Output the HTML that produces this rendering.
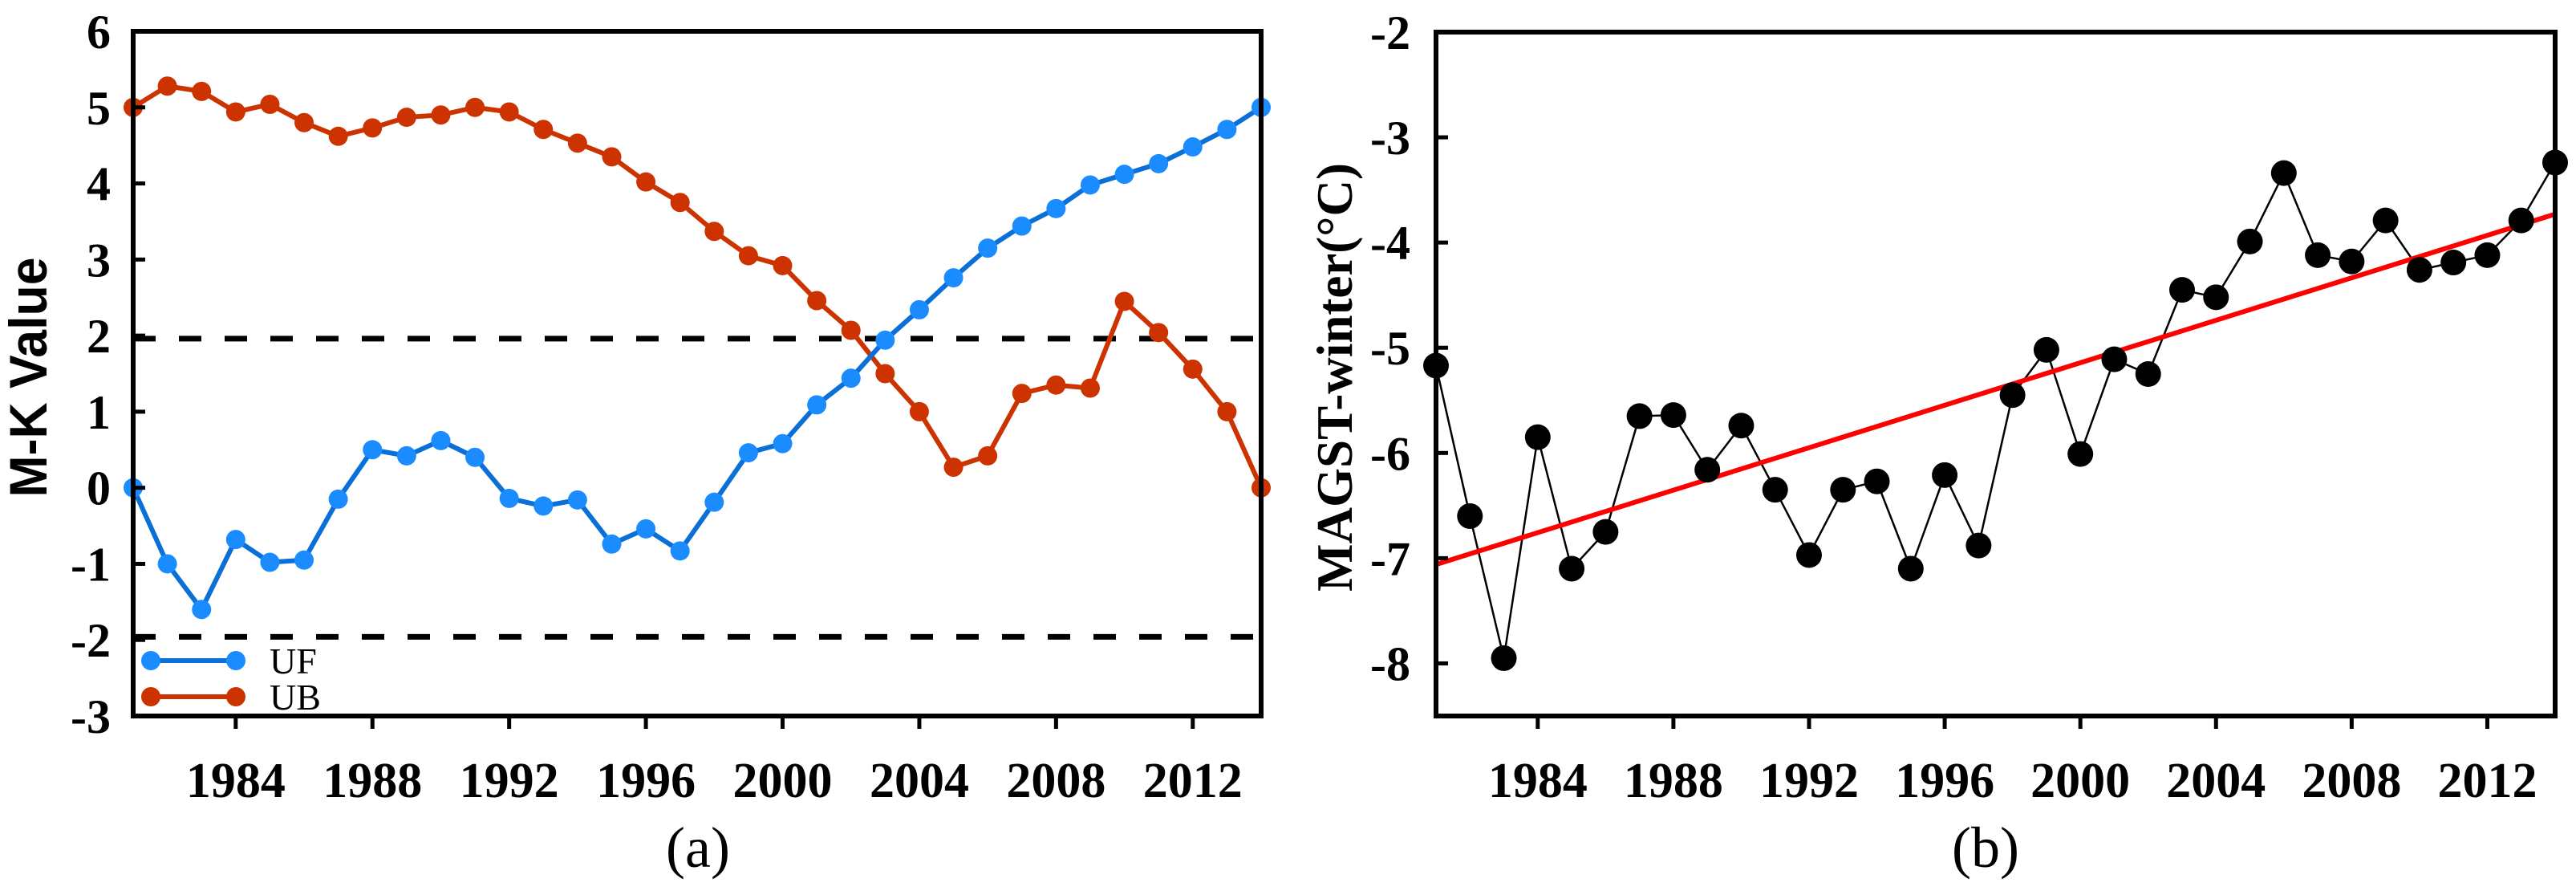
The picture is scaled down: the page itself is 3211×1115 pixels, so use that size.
<!DOCTYPE html>
<html><head><meta charset="utf-8"><style>
html,body{margin:0;padding:0;background:#fff;}
svg{display:block;}
</style></head><body>
<svg id="fig" width="3211" height="1115" viewBox="0 0 3211 1115" xmlns="http://www.w3.org/2000/svg">
<g id="pa"></g>
<g id="pb"></g>
</svg>
<script>
const years = [1981,1982,1983,1984,1985,1986,1987,1988,1989,1990,1991,1992,1993,1994,1995,1996,1997,1998,1999,2000,2001,2002,2003,2004,2005,2006,2007,2008,2009,2010,2011,2012,2013,2014];
const ufValues = [0,-1.0,-1.6,-0.68,-0.98,-0.95,-0.15,0.5,0.42,0.62,0.4,-0.14,-0.24,-0.16,-0.74,-0.54,-0.83,-0.19,0.46,0.58,1.09,1.44,1.94,2.34,2.76,3.15,3.44,3.67,3.98,4.12,4.26,4.48,4.71,5.0];
const ubValues = [5.0,5.28,5.21,4.94,5.04,4.8,4.62,4.73,4.87,4.9,5.0,4.94,4.71,4.53,4.35,4.02,3.75,3.37,3.05,2.92,2.46,2.07,1.5,1.0,0.27,0.42,1.24,1.35,1.31,2.45,2.04,1.56,1.0,0];
const magstValues = [-5.17,-6.6,-7.95,-5.85,-7.1,-6.75,-5.65,-5.64,-6.16,-5.74,-6.35,-6.97,-6.35,-6.27,-7.1,-6.21,-6.88,-5.45,-5.02,-6.01,-5.11,-5.25,-4.45,-4.52,-3.99,-3.34,-4.12,-4.18,-3.79,-4.26,-4.19,-4.12,-3.79,-3.24];
const trendEnds = [-7.06,-3.73];
const xTickYears = [1984,1988,1992,1996,2000,2004,2008,2012];
const yTicksA = [6,5,4,3,2,1,0,-1,-2,-3];
const yTicksB = [-2,-3,-4,-5,-6,-7,-8];
const critValues = [1.96,-1.96];

const NS='http://www.w3.org/2000/svg';
const SERIF='"Liberation Serif", "Times New Roman", Times, serif';
function mk(parent,tag,attrs,txt){const e=document.createElementNS(NS,tag);for(const k in attrs)e.setAttribute(k,attrs[k]);if(txt!==undefined)e.textContent=txt;parent.appendChild(e);return e;}

function panel(L,R,T,B,ymax,ymin){
  const x=v=>L+(v-1981)/(2014-1981)*(R-L);
  const y=v=>T+(ymax-v)/(ymax-ymin)*(B-T);
  return {x,y};
}

// ---------- Panel A ----------
const ga=document.getElementById('pa');
const A={L:166,R:1572,T:39,B:892};
const sa=panel(A.L,A.R,A.T,A.B,6,-3);
critValues.forEach(c=>{
  const l=mk(ga,'line',{x1:A.L,x2:A.R,y1:sa.y(c),y2:sa.y(c),stroke:'#000','stroke-width':7,'stroke-dasharray':'28,29'});
  
  
});
function series(g,vals,s,color,mcolor,r,w,name){
  const pts=vals.map((v,i)=>s.x(years[i])+','+s.y(v)).join(' ');
  const pl=mk(g,'polyline',{points:pts,fill:'none',stroke:color,'stroke-width':w,'stroke-linejoin':'round'});
  
  
  vals.forEach((v,i)=>{
    const c=mk(g,'circle',{cx:s.x(years[i]),cy:s.y(v),r:r,fill:mcolor});
    
    
  });
}
series(ga,ubValues,sa,'#cc3300','#cc3300',12,6,'ub');
series(ga,ufValues,sa,'#0a6fd6','#1a8cff',12,6,'uf');
const fa=mk(ga,'rect',{x:A.L,y:A.T,width:A.R-A.L,height:A.B-A.T,fill:'none',stroke:'#000','stroke-width':6});


yTicksA.forEach(v=>{
  mk(ga,'line',{x1:A.L,x2:A.L+15,y1:sa.y(v),y2:sa.y(v),stroke:'#000','stroke-width':5});
  const t=mk(ga,'text',{x:A.L-28,y:sa.y(v)+21,'text-anchor':'end','font-size':60,'font-weight':'bold','font-family':SERIF},String(v));
  
  
});
xTickYears.forEach(v=>{
  mk(ga,'line',{x1:sa.x(v),x2:sa.x(v),y1:A.B,y2:A.B+16,stroke:'#000','stroke-width':5});
  const t=mk(ga,'text',{x:sa.x(v),y:993,'text-anchor':'middle','font-size':62,'font-weight':'bold','font-family':SERIF},String(v));
  
  
});
const ta=mk(ga,'text',{x:0,y:0,transform:'translate(58,470) rotate(-90)','text-anchor':'middle','font-size':66,'font-weight':'bold','font-family':'"Liberation Sans", Arial, sans-serif',textLength:299,lengthAdjust:'spacingAndGlyphs'},'M-K Value');


const ca=mk(ga,'text',{x:870,y:1080,'text-anchor':'middle','font-size':72,'font-family':SERIF},'(a)');


// legend
[['uf','#0a6fd6','#1a8cff','UF',823],['ub','#cc3300','#cc3300','UB',868]].forEach(d=>{
  const lg=mk(ga,'g',{});
  
  
  mk(lg,'line',{x1:188,x2:294,y1:d[4],y2:d[4],stroke:d[1],'stroke-width':6});
  mk(lg,'circle',{cx:188,cy:d[4],r:12,fill:d[2]});
  mk(lg,'circle',{cx:294,cy:d[4],r:12,fill:d[2]});
  mk(lg,'text',{x:336,y:d[4]+16,'font-size':46,'font-family':SERIF},d[3]);
});

// ---------- Panel B ----------
const gb=document.getElementById('pb');
const B={L:1790,R:3185,T:40,B:892};
const sb=panel(B.L,B.R,B.T,B.B,-2,-8.5);
const pts=magstValues.map((v,i)=>sb.x(years[i])+','+sb.y(v)).join(' ');
const ml=mk(gb,'polyline',{points:pts,fill:'none',stroke:'#000','stroke-width':2.5});


const tr=mk(gb,'line',{x1:sb.x(1981),y1:sb.y(trendEnds[0]),x2:sb.x(2014),y2:sb.y(trendEnds[1]),stroke:'#ff0000','stroke-width':6});


magstValues.forEach((v,i)=>{
  const c=mk(gb,'circle',{cx:sb.x(years[i]),cy:sb.y(v),r:16,fill:'#000'});
  
  
});
const fb=mk(gb,'rect',{x:B.L,y:B.T,width:B.R-B.L,height:B.B-B.T,fill:'none',stroke:'#000','stroke-width':6});


yTicksB.forEach(v=>{
  mk(gb,'line',{x1:B.L,x2:B.L+15,y1:sb.y(v),y2:sb.y(v),stroke:'#000','stroke-width':5});
  const t=mk(gb,'text',{x:B.L-32,y:sb.y(v)+21,'text-anchor':'end','font-size':60,'font-weight':'bold','font-family':SERIF},String(v));
  
  
});
xTickYears.forEach(v=>{
  mk(gb,'line',{x1:sb.x(v),x2:sb.x(v),y1:B.B,y2:B.B+16,stroke:'#000','stroke-width':5});
  const t=mk(gb,'text',{x:sb.x(v),y:993,'text-anchor':'middle','font-size':62,'font-weight':'bold','font-family':SERIF},String(v));
  
  
});
const tb=mk(gb,'text',{x:0,y:0,transform:'translate(1685,470) rotate(-90)','text-anchor':'middle','font-size':64,'font-weight':'bold','font-family':SERIF,textLength:534,lengthAdjust:'spacingAndGlyphs'},'MAGST-winter(°C)');


const cb=mk(gb,'text',{x:2475,y:1080,'text-anchor':'middle','font-size':72,'font-family':SERIF},'(b)');


</script>
</body></html>
